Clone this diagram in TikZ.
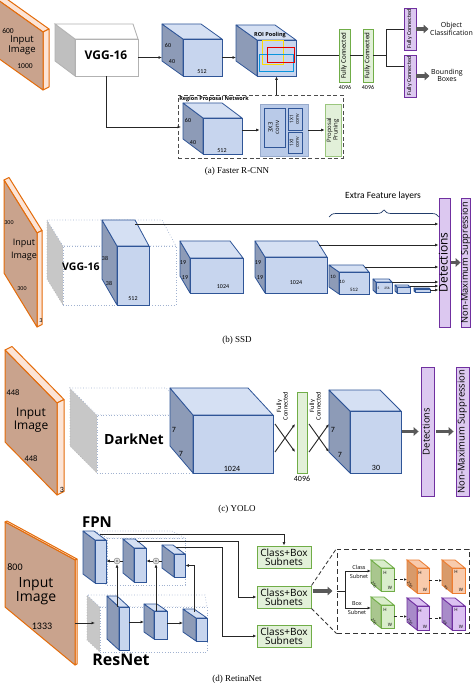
\documentclass[tikz,border=0pt]{standalone}
\usepackage{fontspec}
\setmainfont{Open Sans}
\newfontfamily\calfont{Carlito}
\newfontfamily\capfont{Liberation Serif}
\usetikzlibrary{fit,arrows.meta,decorations.pathreplacing}

\definecolor{cubefill}{HTML}{C7D5EE}
\definecolor{cubeside}{HTML}{8D9BB7}
\definecolor{cubetop}{HTML}{D5E0F3}
\definecolor{cubeline}{HTML}{2F5597}
\definecolor{imgfill}{HTML}{C9A38D}
\definecolor{imgside}{HTML}{FCE4D6}
\definecolor{imgline}{HTML}{E46C0A}
\definecolor{fcfill}{HTML}{E2F0D9}
\definecolor{fcline}{HTML}{70AD47}
\definecolor{detfill}{HTML}{DCC8F0}
\definecolor{detline}{HTML}{7030A0}
\definecolor{orfill}{HTML}{F8CBAD}
\definecolor{orside}{HTML}{D89A6A}
\definecolor{orline}{HTML}{ED7D31}
\definecolor{grfill}{HTML}{D9EDCB}
\definecolor{grside}{HTML}{A9C68E}
\definecolor{pufill}{HTML}{DCC2F2}
\definecolor{puside}{HTML}{A88BC9}
\definecolor{convfill}{HTML}{B9CAE8}

\newcommand{\fsz}[2]{\fontsize{#1}{#2}\selectfont}
\newcommand{\vtext}[1]{\rotatebox{90}{\begin{tabular}{@{}c@{}}#1\end{tabular}}}

% 3D box: style, name, front left, top, right, bottom,
% shift of the back face to the left (left edge, right edge) and upwards
\newcommand{\block}[9]{%
  \filldraw[#1 side] (#3,#4) -- ({#3-#7},{#4-#9}) -- ({#3-#7},{#6-#9}) -- (#3,#6) -- cycle;
  \filldraw[#1 top] (#3,#4) -- ({#3-#7},{#4-#9}) -- ({#5-#8},{#4-#9}) -- (#5,#4) -- cycle;
  \node[#1 front,fit={(#3,#4) (#5,#6)}] (#2) {};
  \coordinate (#2 back) at ({#3-#7},{(#4+#6)/2-#9});
}

% input image slab: name, left x, left top, right x, right top, left height, right height, thickness
\newcommand{\slab}[8]{%
  \filldraw[slab side] (#2,#3) -- ({#2+#8},{#3-#8/2}) -- ({#4+#8},{#5-#8/2}) -- (#4,#5) -- cycle;
  \filldraw[slab side] (#4,#5) -- ({#4+#8},{#5-#8/2}) -- ({#4+#8},{#5+#7-#8/2}) -- (#4,{#5+#7}) -- cycle;
  \filldraw[slab front] (#2,#3) -- (#4,#5) -- (#4,{#5+#7}) -- (#2,{#3+#6}) -- cycle;
  \coordinate (#1) at (#4,{#5+#7/2});
}

\begin{document}
\begin{tikzpicture}[x=1pt,y=-1pt]
\tikzset{
% faces of the 3D boxes
blue front/.style={draw=cubeline,fill=cubefill,line width=0.8pt,inner sep=0pt},
blue side/.style={draw=cubeline,fill=cubeside,line width=0.8pt,line join=round},
blue top/.style={draw=cubeline,fill=cubetop,line width=0.8pt,line join=round},
white front/.style={draw=black!30,fill=white,line width=0.8pt,inner sep=0pt},
white side/.style={draw=black!30,fill=black!25,line width=0.8pt},
white top/.style={draw=black!30,fill=white,line width=0.8pt},
dots front/.style={draw=cubeline!45,dotted,fill=white,line width=0.7pt,inner sep=0pt},
dots side/.style={draw=black!30,dotted,fill=black!22,line width=0.7pt},
dots top/.style={draw=cubeline!45,dotted,fill=white,line width=0.7pt},
frame front/.style={draw=cubeline!45,dotted,fill=none,line width=0.6pt,inner sep=0pt},
frame side/.style={draw=cubeline!45,dotted,fill=none,line width=0.6pt},
frame top/.style={draw=cubeline!45,dotted,fill=none,line width=0.6pt},
green front/.style={draw=fcline,fill=grfill,line width=0.8pt,inner sep=0pt},
green side/.style={draw=fcline,fill=grside,line width=0.8pt},
green top/.style={draw=fcline,fill=grfill,line width=0.8pt},
orange front/.style={draw=orline,fill=orfill,line width=0.8pt,inner sep=0pt},
orange side/.style={draw=orline,fill=orside,line width=0.8pt},
orange top/.style={draw=orline,fill=orfill,line width=0.8pt},
purple front/.style={draw=detline,fill=pufill,line width=0.8pt,inner sep=0pt},
purple side/.style={draw=detline,fill=puside,line width=0.8pt},
purple top/.style={draw=detline,fill=pufill,line width=0.8pt},
% input image slab
slab front/.style={draw=imgline,fill=imgfill,line width=1pt,line join=round},
slab side/.style={draw=imgline,fill=imgside,line width=1pt,line join=round},
% flat boxes
fc box/.style={draw=fcline,fill=fcfill,line width=0.8pt,inner sep=0pt,font=\calfont\fsz{7}{7}},
det box/.style={draw=detline,fill=detfill,line width=0.8pt,inner sep=0pt},
subnet box/.style={draw=fcline,fill=fcfill,line width=1pt,inner sep=0pt,align=center,font=\fsz{10}{9.5}},
conv box/.style={draw=cubeline!50,fill=convfill,line width=0.8pt,inner sep=0pt},
conv in/.style={draw=cubeline,fill=convfill,line width=0.8pt,inner sep=0pt},
rpn frame/.style={draw=black!70,dash pattern=on 4pt off 2.5pt,line width=0.9pt,inner sep=0pt},
inset frame/.style={draw=black!80,dash pattern=on 5pt off 3pt,line width=1pt,inner sep=0pt},
merge/.style={circle,draw=black!55,fill=black!12,minimum size=6pt,inner sep=0pt,
  path picture={\fill[black!50] (path picture bounding box.center) circle (1.2pt);}},
% connectors
conn/.style={draw=black!85,line width=0.7pt},
arr/.style={conn,-{Latex[length=3.5pt,width=3pt]}},
darr/.style={conn,dashed,-{Latex[length=3pt,width=2.6pt]}},
dashconn/.style={draw=black!80,dash pattern=on 4pt off 2.5pt,line width=0.8pt},
fat/.style={draw=black!65,line width=3.2pt,-{Triangle[length=5pt,width=8.5pt]}},
brace line/.style={draw=cubeline!70!black,line width=0.7pt,decorate,decoration={brace,amplitude=7pt}},
% texts
txt/.style={inner sep=0pt,align=center},
heavy/.style={inner sep=0pt,font=\bfseries},
dim/.style={inner sep=0pt,font=\calfont\fsz{6}{6}},
tiny/.style={inner sep=0pt,font=\fsz{4.5}{4.5}},
tilted/.style={inner sep=0pt,font=\fsz{3.8}{3.8},rotate=-60},
caption/.style={inner sep=0pt,font=\capfont\fsz{9}{9}}
}
\useasboundingbox (0,0) rectangle (474,684);
\clip (0,0) rectangle (474,684);
\fill[white] (0,0) rectangle (474,684);

% (a) Faster R-CNN
\slab{imga}{-2}{0}{43}{32}{58}{58}{6}
\node[dim,font=\calfont\fsz{7.5}{7.5}] (imga h) at (8,31) {600};
\node[txt,font=\fsz{9.5}{8.5}] (imga txt) at (22,45) {Input\\Image};
\node[dim,font=\calfont\fsz{7.5}{7.5}] (imga w) at (25,66) {1000};

\block{white}{vgga}{75}{39}{138}{76}{20}{5}{15}
\node[heavy,font=\bfseries\fsz{12}{12}] (vgga txt) at (106,55) {VGG-16};

\block{blue}{conva}{183}{39}{222}{76}{21}{21}{15}
\node[dim] (conva h) at (168,46) {60};
\node[dim] (conva w) at (172,62) {40};
\node[dim] (conva d) at (202,72) {512};

\block{blue}{roi}{257}{40}{296}{76}{21}{21}{15}
\draw[yellow!80!orange,line width=1pt] (262,41) rectangle (283,65);
\draw[cyan!80!blue,line width=1pt] (259,55) rectangle (293,72);
\draw[red!90!black,line width=1pt] (267,48) rectangle (294,63);
\node[heavy,font=\bfseries\fsz{5.5}{5.5}] (roi txt) at (270,35) {ROI Pooling};

\draw[arr] (vgga.east) -- (vgga.east -| conva back);
\draw[arr] (conva.east) -- (conva.east -| roi back);

% region proposal network
\node[rpn frame,minimum width=165,minimum height=63] (rpn) at (260.5,126.5) {};
\node[heavy,anchor=north west,inner sep=1.5pt,font=\bfseries\fsz{5.5}{5.5}] (rpn txt) at (rpn.north west) {Region Proposal Network};
\block{blue}{rpnc}{203}{118}{242}{154}{20}{20}{15}
\node[dim] (rpnc h) at (188,120) {60};
\node[dim] (rpnc w) at (193,143) {40};
\node[dim] (rpnc d) at (222,151) {512};
\node[conv box,minimum width=48,minimum height=52] (conv) at (284,130) {};
\node[conv in,minimum width=21,minimum height=39,font=\fsz{6}{6.5}] (conv3) at (274.5,127.5) {\vtext{3X3\\conv}};
\node[conv in,minimum width=14,minimum height=22,font=\fsz{5}{5.5}] (conv1a) at (295,119) {\vtext{1X1\\conv}};
\node[conv in,minimum width=14,minimum height=21,font=\fsz{5}{5.5}] (conv1b) at (295,142.5) {\vtext{1X1\\conv}};
\node[fc box,minimum width=16,minimum height=52,draw=fcline!70,font=\fsz{6}{6.5}] (prune) at (333,130) {\vtext{Proposal\\Pruning}};

\coordinate (rpn in) at (181,127);
\draw[arr] (vgga.south) |- (rpn in);
\draw[arr] (rpnc.east |- conv.west) -- (conv.west);
\draw[arr] (conv) -- (prune);
\draw[arr] (roi.south |- rpn.north) -- (roi.south);

% fully connected layers and outputs
\node[fc box,minimum width=11,minimum height=53] (fc1) at (344.5,55.5) {\vtext{Fully Connected}};
\node[fc box,minimum width=10,minimum height=53] (fc2) at (368,55.5) {\vtext{Fully Connected}};
\node[dim] (fc1 n) at (345,87) {4096};
\node[dim] (fc2 n) at (368,87) {4096};
\draw[conn] (roi.east |- fc1.west) -- (fc1.west);
\draw[conn] (fc1) -- (fc2);
\node[det box,minimum width=12,minimum height=42,font=\calfont\fsz{6}{6}] (fca) at (410,29) {\vtext{Fully Connected}};
\node[det box,minimum width=12,minimum height=42,font=\calfont\fsz{6}{6}] (fcb) at (410,76) {\vtext{Fully Connected}};
\coordinate (split a) at (386,55.5);
\coordinate (fcb in) at (404,66);
\draw[conn] (fc2.east) -- (split a);
\draw[conn] (split a) |- (fca.west);
\draw[conn] (split a) |- (fcb in);
\node[txt,anchor=west,font=\fsz{7}{6.8}] (cls) at (430,29) {Object\\Classification};
\node[txt,anchor=west,font=\fsz{7}{6.8}] (bbox) at (431,75) {Bounding\\Boxes};
\draw[fat,shorten >=1.5pt] (fca.east) -- (cls.west);
\draw[fat,shorten >=1.5pt] (fcb.east) -- (fcb.east -| bbox.west);

\node[caption] (cap a) at (237,171) {(a) Faster R-CNN};

% (b) SSD
\slab{imgb}{4}{180}{37}{233}{93}{94}{5}
\node[dim] (imgb h) at (9,223) {300};
\node[txt,font=\fsz{9}{13}] (imgb txt) at (24,250) {Input\\Image};
\node[dim] (imgb w) at (22,289) {300};
\node[dim] (imgb d) at (41,321) {3};

\block{dots}{vggb}{63}{246}{176}{305}{16}{14}{26}
\node[heavy,anchor=west,font=\bfseries\fsz{10.5}{10.5}] (vggb txt) at (62,267) {VGG-16};
\block{blue}{convb}{117}{246}{149}{305}{15}{14}{26}
\node[dim] (convb h) at (105,258) {38};
\node[dim] (convb w) at (109,283) {38};
\node[dim] (convb d) at (133,299) {512};

\block{blue}{c19a}{190}{258}{243}{293}{10}{13}{17}
\node[dim] (c19a h) at (183,263) {19};
\node[dim] (c19a w) at (185,278) {19};
\node[dim] (c19a d) at (223,287) {1024};
\block{blue}{c19b}{265}{257}{327}{293}{10}{10}{16}
\node[dim] (c19b h) at (258,263) {19};
\node[dim] (c19b w) at (260,278) {19};
\node[dim] (c19b d) at (296,283) {1024};
\block{blue}{c10}{339}{272}{369}{294}{10}{6}{7}
\node[dim,font=\calfont\fsz{5}{5}] (c10 h) at (333,277) {10};
\node[dim,font=\calfont\fsz{5}{5}] (c10 w) at (342,282) {10};
\node[dim,font=\calfont\fsz{5}{5}] (c10 d) at (354,290) {512};
\block{blue}{c5}{376}{282}{392}{293}{3}{3}{3}
\node[dim,font=\calfont\fsz{3.5}{3.5}] (c5 h) at (378.5,288.5) {5};
\node[dim,font=\calfont\fsz{3.5}{3.5}] (c5 d) at (387,288.5) {256};
\block{blue}{c3}{397}{287}{410}{293}{2}{2}{2}
\block{blue}{c1}{415}{289}{430}{292}{1}{1}{1}

\node[det box,minimum width=9,minimum height=129,font=\fsz{12}{8}] (detb) at (444.5,262.5) {\vtext{Detections}};
\node[det box,minimum width=7,minimum height=129,font=\fsz{9.3}{7}] (nmsb) at (465.5,262.5) {\vtext{Non-Maximum Suppression}};
\draw[fat] (detb) -- (nmsb);

\coordinate (b1) at (135,224);
\coordinate (b2) at (319,245);
\coordinate (b3) at (365,267);
\coordinate (b4) at (392,282);
\coordinate (b5) at (410,286);
\coordinate (b6) at (430,290);
\foreach \p in {b1,b2,b3,b4,b5,b6}
  \draw[arr] (\p) -- (\p -| detb.west);

\draw[brace line] (329,217) -- (439,217);
\node[txt,font=\calfont\fsz{9.5}{9.5}] (extra) at (383,196) {Extra Feature layers};

\node[caption] (cap b) at (237,340) {(b) SSD};

% (c) YOLO
\slab{imgc}{5}{350}{57}{403}{92}{92}{7}
\node[dim,font=\calfont\fsz{8.5}{8.5}] (imgc h) at (13,393) {448};
\node[txt,font=\fsz{12}{13}] (imgc txt) at (31,420) {Input\\Image};
\node[dim,font=\calfont\fsz{8.5}{8.5}] (imgc w) at (31,459) {448};
\node[dim,font=\calfont\fsz{8}{8}] (imgc d) at (62,490) {3};

\block{dots}{dark}{97}{415}{193}{473}{27}{27}{27}
\node[heavy,font=\bfseries\fsz{14}{14}] (dark txt) at (134,439) {DarkNet};
\block{blue}{cubec}{193}{415}{273}{473}{23}{25}{27}
\node[dim,font=\calfont\fsz{8}{8}] (cubec h) at (174,430) {7};
\node[dim,font=\calfont\fsz{8}{8}] (cubec w) at (181,454) {7};
\node[dim,font=\calfont\fsz{8}{8}] (cubec d) at (232,469) {1024};

\node[fc box,minimum width=10,minimum height=81] (fcc) at (302,432.5) {};
\node[dim,font=\calfont\fsz{8}{8}] (fcc n) at (302,479) {4096};
\node[txt,font=\calfont\fsz{6.5}{6.5}] (fcc t1) at (283,406) {\vtext{Fully\\Connected}};
\node[txt,font=\calfont\fsz{6.5}{6.5}] (fcc t2) at (316,406) {\vtext{Fully\\Connected}};
\coordinate (xa1) at (275,424);
\coordinate (xa2) at (295,452);
\coordinate (xa3) at (275,452);
\coordinate (xa4) at (295,424);
\coordinate (xb1) at (309,424);
\coordinate (xb2) at (329,452);
\coordinate (xb3) at (309,452);
\coordinate (xb4) at (329,424);
\draw[arr,line width=0.9pt] (xa1) -- (xa2);
\draw[arr,line width=0.9pt] (xa3) -- (xa4);
\draw[arr,line width=0.9pt] (xb1) -- (xb2);
\draw[arr,line width=0.9pt] (xb3) -- (xb4);

\block{blue}{cube30}{350}{411}{401}{473}{21}{21}{21}
\node[dim,font=\calfont\fsz{8}{8}] (cube30 h) at (333,430) {7};
\node[dim,font=\calfont\fsz{8}{8}] (cube30 w) at (340,455) {7};
\node[dim,font=\calfont\fsz{8}{8}] (cube30 d) at (376,468) {30};

\node[det box,minimum width=13,minimum height=129,font=\fsz{9.5}{9}] (detc) at (427.5,431.5) {\vtext{Detections}};
\node[det box,minimum width=13,minimum height=129,font=\fsz{9.5}{9}] (nmsc) at (462.5,431.5) {\vtext{Non-Maximum Suppression}};
\draw[fat,shorten <=1pt,shorten >=2pt] (cube30.east |- detc.west) -- (detc.west);
\draw[fat,shorten <=2pt,shorten >=2pt] (detc) -- (nmsc);

\node[caption] (cap c) at (237,509) {(c) YOLO};

% (d) RetinaNet
\slab{imgd}{5}{522}{75}{560}{85}{105}{2}
\node[dim,font=\calfont\fsz{10}{10}] (imgd h) at (15,567) {800};
\node[txt,font=\fsz{14}{12.5}] (imgd txt) at (36,591) {Input\\Image};
\node[dim,font=\calfont\fsz{10}{10}] (imgd w) at (42,626) {1333};

% FPN part
\block{frame}{fpnbox}{107}{538}{185}{585}{12}{13}{7}
\block{blue}{f1}{95}{540}{106}{583}{12}{12}{9}
\block{blue}{f2}{134}{548}{146}{582}{11}{11}{9}
\block{blue}{f3}{174}{554}{185}{577}{12}{12}{9}
\node[heavy,font=\bfseries\fsz{15}{15}] (fpn txt) at (97,522) {FPN};

% ResNet part
\block{dots}{resbox}{100}{607}{207}{652}{13}{2}{12}
\block{blue}{r1}{119}{607}{129}{650}{12}{12}{11}
\block{blue}{r2}{154}{611}{167}{639}{10}{10}{7}
\block{blue}{r3}{196}{618}{207}{641}{13}{13}{9}
\node[heavy,font=\bfseries\fsz{16}{16}] (res txt) at (121,660) {ResNet};

\node[merge] (m1) at (117,561) {};
\node[merge] (m2) at (156,561) {};

\coordinate (resnet in) at (95,623);
\coordinate (r2 in) at (144,622);
\coordinate (r3 in) at (183,623);
\coordinate (r3 up) at (194,612);
\draw[arr] (resnet in -| imgd) -- (resnet in);
\draw[arr] (r1.east |- r2 in) -- (r2 in);
\draw[arr] (r2.east |- r3 in) -- (r3 in);
\draw[arr] (m1 |- r1.north) -- (m1);
\draw[arr] (m2 |- r2.north) -- (m2);
\draw[arr] (r3 up) |- (f3.east);
\draw[conn] (m1 -| f2 back) -- (m1);
\draw[arr] (m1) -- (m1 -| f1.east);
\draw[conn] (m2 -| f3 back) -- (m2);
\draw[arr] (m2) -- (m2 -| f2.east);

% subnets
\node[subnet box,minimum width=54,minimum height=22] (cb1) at (284,557) {Class+Box\\Subnets};
\node[subnet box,minimum width=54,minimum height=22] (cb2) at (284,597) {Class+Box\\Subnets};
\node[subnet box,minimum width=54,minimum height=22] (cb3) at (284,636) {Class+Box\\Subnets};
\coordinate (f1 out) at (100,534);
\coordinate (f2 out) at (137,541);
\coordinate (f3 out) at (176,547);
\coordinate (turn2) at (238,597);
\coordinate (turn3) at (222,636);
\draw[arr] (f1 out) -| (cb1.north);
\draw[arr] (f2 out) -| (turn2) -- (cb2.west);
\draw[arr] (f3 out) -| (turn3) -- (cb3.west);

% subnet detail
\node[inset frame,minimum width=132,minimum height=84] (inset) at (403,591) {};
\draw[fat,shorten <=1pt,shorten >=4pt] (cb2.east |- inset.west) -- (inset.west);
\draw[dashconn] (cb2.north east) -- (inset.north west);
\draw[dashconn] (cb2.south east) -- (inset.south west);

\coordinate (split d) at (345,591);
\coordinate (g1 in) at (371,571);
\coordinate (g2 in) at (371,608);
\draw[conn] (inset.west) -- (split d);
\draw[arr] (split d) |- (g1 in);
\draw[arr] (split d) |- (g2 in);
\node[txt,font=\fsz{5.5}{5.5}] (cls t1) at (359,567) {Class};
\node[txt,font=\fsz{5.5}{5.5}] (cls t2) at (359,576) {Subnet};
\node[txt,font=\fsz{5.5}{5.5}] (box t1) at (357,604) {Box};
\node[txt,font=\fsz{5.5}{5.5}] (box t2) at (357,612) {Subnet};

\block{green}{g1}{381}{568}{394}{591}{10}{10}{8}
\block{green}{g2}{381}{605}{394}{628}{10}{10}{8}
\block{orange}{o1}{417}{568}{429}{593}{10}{10}{8}
\block{orange}{o2}{452}{568}{465}{593}{10}{10}{8}
\block{purple}{p1}{417}{606}{429}{630}{10}{10}{8}
\block{purple}{p2}{452}{606}{465}{630}{10}{10}{8}

\node[tiny] (g1 h) at (385,573) {H};
\node[tilted] (g1 d) at (374,585) {256};
\node[tiny] (g1 w) at (390,588) {W};
\node[tiny] (g2 h) at (385,610) {H};
\node[tilted] (g2 d) at (374,622) {256};
\node[tiny] (g2 w) at (390,625) {W};
\node[tiny] (o1 h) at (420,573) {H};
\node[tilted] (o1 d) at (410,585) {256};
\node[tiny] (o1 w) at (425,590) {W};
\node[tiny] (o2 h) at (456,572) {H};
\node[tilted,font=\fsz{3.5}{3.5}] (o2 d) at (446,588) {KA};
\node[tiny] (o2 w) at (461,590) {W};
\node[tiny] (p1 h) at (420,611) {H};
\node[tilted] (p1 d) at (410,622) {256};
\node[tiny] (p1 w) at (425,627) {W};
\node[tiny] (p2 h) at (456,610) {H};
\node[tilted] (p2 d) at (445,623) {4A};
\node[tiny] (p2 w) at (461,627) {W};

\draw[darr] (g1.east) -- (g1.east -| o1 back);
\draw[darr] (o1.east) -- (o1.east -| o2 back);
\draw[darr] (g2.east) -- (g2.east -| p1 back);
\draw[darr] (p1.east) -- (p1.east -| p2 back);

\node[caption] (cap d) at (237,679) {(d) RetinaNet};

\end{tikzpicture}
\end{document}
